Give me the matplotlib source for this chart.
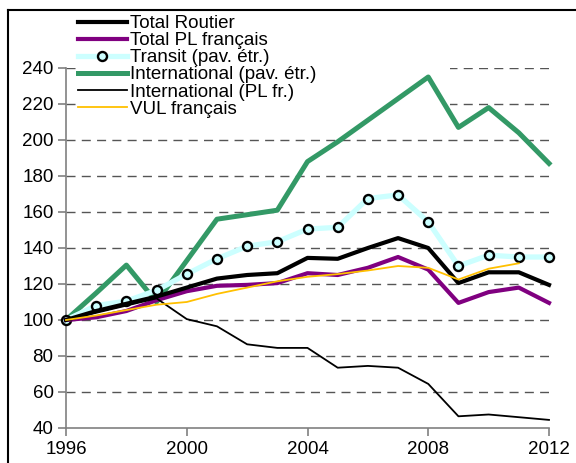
import matplotlib
matplotlib.use("Agg")
import matplotlib.pyplot as plt
from matplotlib.lines import Line2D

plt.rcParams['font.family'] = ['Liberation Sans', 'DejaVu Sans']

years = list(range(1996, 2013))
total_routier = [100, 105, 109, 113, 118, 123, 125, 126, 134.5, 134, 140, 145.5, 140, 120.5, 126.5, 126.5, 119.5]
total_pl = [100, 101.5, 105, 111, 116, 119, 119.5, 120.5, 126, 125, 129, 135, 128, 109.5, 115.5, 118, 109.5]
transit = [100, 108, 110.5, 116.5, 125.5, 134, 141, 143.5, 150.5, 151.5, 167.5, 169.5, 154.5, 130, 136, 135, 135]
intl_etr = [100, 115, 130.5, 110, 133, 156, 158.5, 161, 188, 199, 211, 223, 235, 207, 218, 204, 187]
intl_plfr = [100, 104, 108, 112, 100.5, 96.5, 86.5, 84.5, 84.5, 73.5, 74.5, 73.5, 64.5, 46.5, 47.5, 46, 44.5]
vul_years = list(range(1996, 2012))
vul = [100, 102.5, 105.5, 108.5, 110, 114.5, 118, 121.5, 124, 125.5, 127.5, 130, 129, 122.5, 128.5, 131.5]

labels = ["Total Routier", "Total PL français", "Transit (pav. étr.)",
          "International (pav. étr.)", "International (PL fr.)", "VUL français"]
yticks = [40, 60, 80, 100, 120, 140, 160, 180, 200, 220, 240]
xticks = [1996, 2000, 2004, 2008, 2012]

W, H = 576, 463
fig = plt.figure(figsize=(W / 100, H / 100), dpi=100)
ax = fig.add_axes([66 / W, 1 - 428 / H, (549 - 66) / W, (428 - 68) / H])

for y in yticks[1:]:
    ax.axhline(y, color='#555555', lw=1.0, linestyle=(0, (6.5, 4.5)), zorder=1)

h4, = ax.plot(years, intl_etr, color='#339966', lw=3.6, zorder=3, clip_on=False)
h3, = ax.plot(years, transit, color='#CCFFFF', lw=3.8, marker='o', markersize=6.5,
              markerfacecolor='#CCFFFF', markeredgecolor='black', markeredgewidth=1.7,
              zorder=4, clip_on=False)
h2, = ax.plot(years, total_pl, color='#800080', lw=3.0, zorder=5, clip_on=False)
h1, = ax.plot(years, total_routier, color='black', lw=3.0, zorder=6, clip_on=False)
h5, = ax.plot(years, intl_plfr, color='black', lw=1.3, zorder=7, clip_on=False)
h6, = ax.plot(vul_years, vul, color='#FFC000', lw=1.3, zorder=8, clip_on=False)

ax.set_xlim(1996, 2012)
ax.set_ylim(40, 240)
ax.set_xticks(xticks)
ax.set_yticks(yticks)
ax.tick_params(axis='both', direction='out', length=6, width=1.2, color='#808080',
               labelsize=13.5, labelcolor='black')
ax.tick_params(axis='y', pad=3)
ax.tick_params(axis='x', pad=3)
for s in ['top', 'right']:
    ax.spines[s].set_visible(False)
for s in ['left', 'bottom']:
    ax.spines[s].set_color('#808080')
    ax.spines[s].set_linewidth(1.2)

leg = ax.legend([h1, h2, h3, h4, h5, h6], labels,
                loc='upper left', bbox_to_anchor=(77 / W, 1 - 14 / H, (450 - 77) / W, 0),
                bbox_transform=fig.transFigure,
                mode='expand', frameon=True, facecolor='white', edgecolor='none', framealpha=1,
                fontsize=13.5, labelspacing=0.0, handlelength=2.6, handletextpad=0.15,
                borderpad=0.05, borderaxespad=0)
leg.set_zorder(2)

# outer frame (partial, as in cropped source)
fig.add_artist(Line2D([8 / W, 8 / W], [0, 1 - 10 / H], transform=fig.transFigure, color='black', lw=1.5))
fig.add_artist(Line2D([8 / W, 1], [1 - 10 / H, 1 - 10 / H], transform=fig.transFigure, color='black', lw=1.5))

fig.savefig('out.png', dpi=100)
